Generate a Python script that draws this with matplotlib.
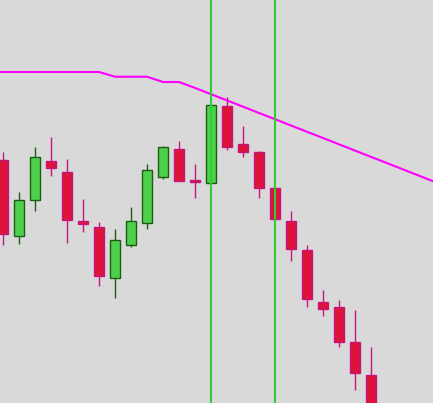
import matplotlib
matplotlib.use("Agg")
import matplotlib.pyplot as plt

# OHLC prices per candle (index 0..23)
opens  = [29.0, 21.43, 25.03, 28.9, 27.8, 22.9, 22.3, 17.23, 20.53, 22.73, 27.33, 30.1,
          27.0, 26.73, 34.4, 30.6, 29.8, 26.17, 22.9, 20.0, 14.8, 14.3, 10.8, 7.5]
closes = [21.57, 25.0, 29.27, 28.23, 23.03, 22.63, 17.43, 21.0, 22.9, 28.0, 30.27, 26.93,
          26.83, 34.5, 30.33, 29.83, 26.23, 23.13, 20.13, 15.13, 14.13, 10.83, 7.73, 4.0]
highs  = [29.8, 25.8, 30.3, 31.3, 29.1, 25.1, 22.8, 22.1, 24.3, 28.6, 30.4, 30.9,
          28.6, 34.5, 35.27, 32.4, 29.9, 26.17, 23.9, 20.5, 16.0, 15.0, 14.0, 10.3]
lows   = [20.5, 20.63, 23.93, 27.43, 20.73, 21.83, 16.43, 15.23, 20.33, 22.13, 27.13, 26.93,
          25.23, 26.73, 30.0, 29.33, 25.23, 23.13, 18.93, 14.33, 13.43, 10.33, 6.0, 3.5]

# moving average line (index -1..27)
ma_idx = list(range(-1, 28))
ma_vals = [37.8, 37.8, 37.8, 37.8, 37.8, 37.8, 37.8, 37.8, 37.33, 37.33, 37.33, 36.8, 36.8,
           36.21, 35.58, 34.96, 34.33, 33.7, 33.08, 32.45, 31.82, 31.2, 30.57, 29.94,
           29.31, 28.69, 28.06, 27.43, 26.8]

# marker vertical lines at candle indices
markers = [13, 17]

BG = "#d9d9d9"
UP_FACE, UP_EDGE = "#4dd14d", "#1e5c14"
DN_FACE, DN_EDGE = "#dc143c", "#c5167e"

fig = plt.figure(figsize=(4.33, 4.03), dpi=100, facecolor=BG)
ax = fig.add_axes([0, 0, 1, 1])
ax.set_facecolor(BG)

idx = list(range(len(opens)))
for i in idx:
    up = closes[i] >= opens[i]
    ec = UP_EDGE if up else DN_EDGE
    ax.vlines(i, lows[i], highs[i], color=ec, linewidth=1.0, zorder=1)
    ax.bar(i, closes[i] - opens[i], bottom=opens[i], width=0.62,
           color=UP_FACE if up else DN_FACE, edgecolor=ec, linewidth=1.0, zorder=2)

ax.plot(ma_idx, ma_vals, color="#ff00ff", linewidth=1.5, zorder=3)
for m in markers:
    ax.axvline(m, color="#33cc33", linewidth=1.5, zorder=4)

ax.set_xlim(-0.1875, 26.875)
ax.set_ylim(4.7, 45.0)
ax.axis("off")

fig.savefig("out.png", dpi=100, facecolor=BG)
